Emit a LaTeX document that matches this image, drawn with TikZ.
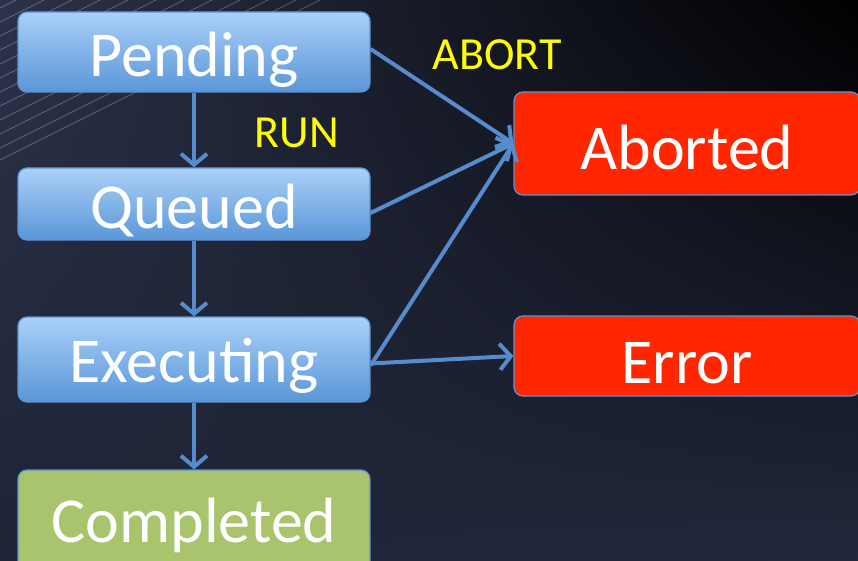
\documentclass[tikz,border=0pt]{standalone}
\usepackage{fontspec}
\setmainfont{Carlito}
\usetikzlibrary{arrows.meta,shadings}
\definecolor{arrowblue}{HTML}{568CCD}
\definecolor{boxtop}{HTML}{AAD0F8}
\definecolor{boxbot}{HTML}{5A96D8}
\definecolor{boxline}{HTML}{5E93D2}
\definecolor{errred}{HTML}{FF2600}
\definecolor{okgreen}{HTML}{A9C46C}
\definecolor{lbl}{HTML}{FFFF00}
\definecolor{bgul}{RGB}{44,50,74}
\definecolor{bgll}{RGB}{30,36,54}
\definecolor{bglr}{RGB}{34,40,60}
\tikzset{
  state/.style={rounded corners=9pt, minimum width=352pt, text=white, font=\fontsize{64}{64}\selectfont, inner sep=0pt, line width=1.2pt, text height=50pt, text depth=0pt},
  bluestate/.style={state, draw=boxline, top color=boxtop, bottom color=boxbot},
  redstate/.style={state, draw=boxline, fill=errred, minimum width=346pt},
  greenstate/.style={state, draw=boxline, fill=okgreen},
  conn/.style={draw=arrowblue, line width=4pt, -{Straight Barb[length=11pt,width=26pt,line width=4pt]}},
  lab/.style={text=lbl, font=\fontsize{46}{46}\selectfont, inner sep=0pt},
  deco/.style={white, opacity=0.22, line width=1pt}
}
\begin{document}
\begin{tikzpicture}[x=1pt,y=-1pt]
\useasboundingbox (0,0) rectangle (858,561);
\shade[upper left=bgul, upper right=black, lower left=bgll, lower right=bglr]
  (0,0) rectangle (858,561);
\foreach \y in {8,22,36,50,64,78,92,106,120,134,148,160} {
  \draw[deco] (0,\y) -- ({2*\y},0);
}
\node[bluestate, minimum height=80pt] (pend) at (194,52) {Pending};
\node[bluestate, minimum height=72pt] (queu) at (194,204) {Queued};
\node[bluestate, minimum height=85pt, text height=45pt] (exec) at (194,359.5) {Executing};
\node[greenstate, minimum height=100pt, text height=44pt] (comp) at (194,520) {Completed};
\node[redstate, minimum height=103pt, text height=53pt] (abrt) at (687,143.5) {Aborted};
\node[redstate, minimum height=80pt, text height=54pt] (err) at (687,356) {Error};
\node[lab] (run) at (297,133) {RUN};
\node[lab] (abl) at (497,55) {ABORT};
\draw[conn] (pend.south) -- (queu.north);
\draw[conn] (queu.south) -- (exec.north);
\draw[conn] (exec.south) -- (comp.north);
\draw[conn] ([yshift=3pt]pend.east) -- (abrt.west);
\draw[conn] ([yshift=-9pt]queu.east) -- (abrt.west);
\draw[conn] ([yshift=-6pt]exec.east) -- (abrt.west);
\draw[conn] ([yshift=-4pt]exec.east) -- (err.west);
\end{tikzpicture}
\end{document}
